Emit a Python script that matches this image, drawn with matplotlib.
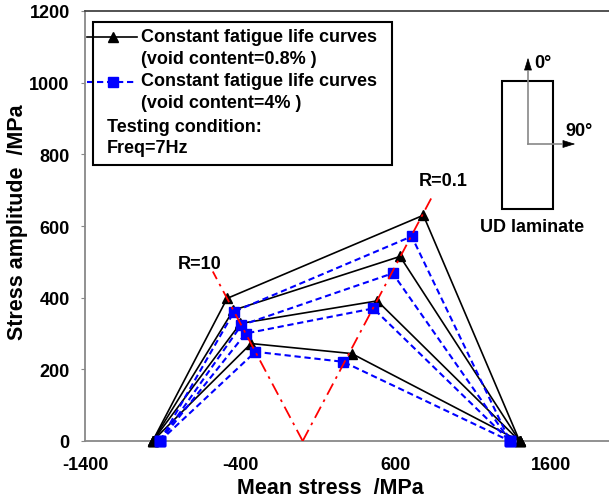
import matplotlib.pyplot as plt
from matplotlib.lines import Line2D
from matplotlib.patches import Rectangle

plt.rcParams['font.family'] = ['Liberation Sans', 'DejaVu Sans']
plt.rcParams['font.weight'] = 'bold'
plt.rcParams['axes.unicode_minus'] = False

# constant fatigue life curves, void content 0.8% (black) and 4% (blue)
# each curve: (left end, 0) -> R=10 point -> R=0.1 point -> (right end, 0)
black_ends = [-965, 1395]
black_r10_mean = [-486, -446, -401, -332]
black_r10_amp = [398, 365, 328, 272]
black_r01_mean = [776, 626, 480, 315]
black_r01_amp = [630, 515, 391, 244]

blue_ends = [-918, 1333]
blue_r10_mean = [-441, -395, -367, -304]
blue_r10_amp = [361, 323, 300, 249]
blue_r01_mean = [701, 579, 454, 261]
blue_r01_amp = [571, 468, 370, 221]

# stress ratio lines
r10_line_x = [0, -578]
r10_line_y = [0, 473]
r01_line_x = [0, 830]
r01_line_y = [0, 680]

xticks = [-1400, -400, 600, 1600]
yticks = [0, 200, 400, 600, 800, 1000, 1200]

FS = 13

W, H = 609, 502
fig = plt.figure(figsize=(W / 100, H / 100), dpi=100)
ax = fig.add_axes([85 / W, (H - 442) / H, 1 - 85 / W, (442 - 12) / H])


def curve(ends, m10, a10, m01, a01, i):
    xs = [ends[0], m10[i], m01[i], ends[1]]
    ys = [0, a10[i], a01[i], 0]
    return xs, ys


for i in range(len(black_r10_mean)):
    xs, ys = curve(black_ends, black_r10_mean, black_r10_amp,
                   black_r01_mean, black_r01_amp, i)
    ax.plot(xs, ys, color='black', lw=1.2, marker='^', ms=7,
            clip_on=False, zorder=3)

for i in range(len(blue_r10_mean)):
    xs, ys = curve(blue_ends, blue_r10_mean, blue_r10_amp,
                   blue_r01_mean, blue_r01_amp, i)
    ax.plot(xs, ys, color='#0000ff', lw=1.5, ls=(0, (3, 1.8)), marker='s',
            ms=6.5, clip_on=False, zorder=4)

red_style = dict(color='#ff0000', lw=1.3, ls=(0, (7, 3, 1.5, 3)), zorder=5)
ax.plot(r10_line_x, r10_line_y, **red_style)
ax.plot(r01_line_x, r01_line_y, **red_style)
ax.text(-660, 496, 'R=10', ha='center', va='center', fontsize=FS)
ax.text(902, 726, 'R=0.1', ha='center', va='center', fontsize=FS)

ax.set_xlim(-1400, 1970)
ax.set_ylim(0, 1200)
ax.set_xticks(xticks)
ax.set_yticks(yticks)
ax.tick_params(labelsize=FS, colors='#888888', labelcolor='black',
               direction='out', length=3)
ax.tick_params(axis='x', pad=11, length=0)
ax.tick_params(axis='y', pad=8)
for side in ['left', 'bottom', 'top']:
    ax.spines[side].set_color('#888888')
    ax.spines[side].set_linewidth(1.3)
ax.spines['top'].set_color('#444444')
ax.spines['right'].set_visible(False)
ax.set_xlabel('Mean stress  /MPa', fontsize=15.5, fontweight='bold', va='top')
ax.xaxis.set_label_coords(0.468, -0.084)
ax.set_ylabel('Stress amplitude  /MPa', fontsize=15.5, fontweight='bold')
ax.yaxis.set_label_coords(-0.109, 0.512)


def fx(px):
    return px / W


def fy(py):
    return 1 - py / H


# legend box
fig.patches.append(Rectangle((fx(93), fy(166)), fx(392) - fx(93), fy(23) - fy(166),
                             transform=fig.transFigure, fill=False,
                             edgecolor='black', lw=1.5, zorder=6))
fig.lines.append(Line2D([fx(87), fx(137)], [fy(38), fy(38)], color='black', lw=1.2,
                        transform=fig.transFigure))
fig.lines.append(Line2D([fx(113)], [fy(38)], color='black', marker='^', ms=7,
                        transform=fig.transFigure))
fig.lines.append(Line2D([fx(87), fx(137)], [fy(83), fy(83)], color='#0000ff', lw=1.5,
                        ls=(0, (3, 1.8)), transform=fig.transFigure))
fig.lines.append(Line2D([fx(113)], [fy(83)], color='#0000ff', marker='s', ms=6.5,
                        transform=fig.transFigure))
legend_txt = dict(fontsize=FS, ha='left', va='center')
fig.text(fx(141), fy(38), 'Constant fatigue life curves', **legend_txt)
fig.text(fx(141), fy(59), '(void content=0.8% )', **legend_txt)
fig.text(fx(141), fy(82), 'Constant fatigue life curves', **legend_txt)
fig.text(fx(141), fy(103), '(void content=4% )', **legend_txt)
fig.text(fx(107), fy(128), 'Testing condition:', **legend_txt)
fig.text(fx(107), fy(149), 'Freq=7Hz', **legend_txt)

# UD laminate sketch
fig.patches.append(Rectangle((fx(502), fy(210)), fx(553) - fx(502), fy(82) - fy(210),
                             transform=fig.transFigure, fill=False,
                             edgecolor='black', lw=1.5))
fig.lines.append(Line2D([fx(528), fx(528)], [fy(145), fy(72)], color='#888888', lw=1.2,
                        transform=fig.transFigure))
fig.lines.append(Line2D([fx(528), fx(562)], [fy(145), fy(145)], color='#888888', lw=1.2,
                        transform=fig.transFigure))
ax.annotate('', xy=(fx(528), fy(56)), xytext=(fx(528), fy(74)),
            xycoords='figure fraction',
            arrowprops=dict(arrowstyle='-|>,head_length=0.8,head_width=0.25',
                            color='black', lw=0.5))
ax.annotate('', xy=(fx(578), fy(145)), xytext=(fx(560), fy(145)),
            xycoords='figure fraction',
            arrowprops=dict(arrowstyle='-|>,head_length=0.8,head_width=0.25',
                            color='black', lw=0.5))
fig.text(fx(534), fy(63), '0°', fontsize=FS, ha='left', va='center')
fig.text(fx(565), fy(132), '90°', fontsize=FS, ha='left', va='center')
fig.text(fx(532), fy(228), 'UD laminate', fontsize=FS, ha='center', va='center')

fig.savefig('out.png', dpi=100)
